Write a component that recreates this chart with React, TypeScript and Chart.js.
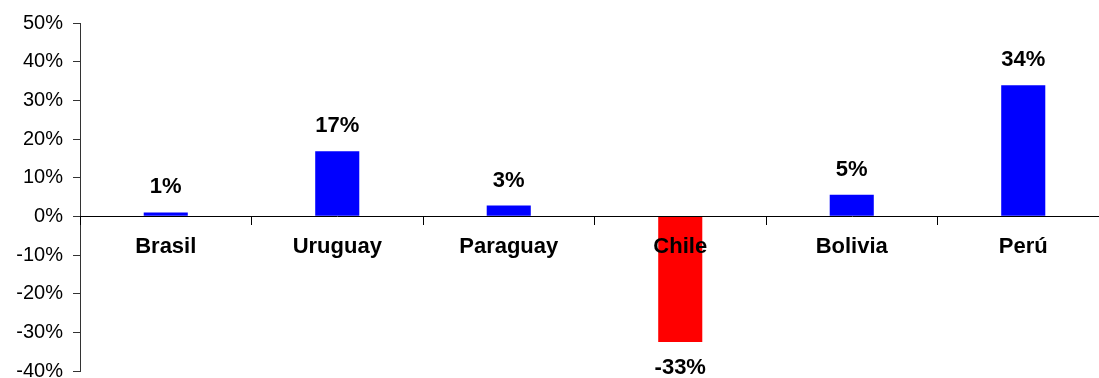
import React, { useEffect, useRef } from "react";
import { Chart, registerables } from "chart.js";

Chart.register(...registerables);

const categories = ["Brasil", "Uruguay", "Paraguay", "Chile", "Bolivia", "Perú"];
const values = [1.0, 16.8, 2.8, -32.5, 5.6, 33.9];
const valueLabels = ["1%", "17%", "3%", "-33%", "5%", "34%"];
const yTicks = { min: -40, max: 50, step: 10 };

const FONT = '"Liberation Sans", Arial, Helvetica, sans-serif';

const dataLabelPlugin = {
  id: "dataLabels",
  afterDatasetsDraw(chart: any) {
    const ctx = chart.ctx;
    const meta = chart.getDatasetMeta(0);
    ctx.save();
    ctx.font = `bold 22px ${FONT}`;
    ctx.fillStyle = "#000";
    ctx.textAlign = "center";
    ctx.textBaseline = "alphabetic";
    meta.data.forEach((el: any, i: number) => {
      const v = values[i];
      const y = v >= 0 ? el.y - 19 : el.y + 32;
      ctx.fillText(valueLabels[i], el.x, y);
    });
    ctx.restore();
  },
};

export default function App() {
  const ref = useRef<HTMLCanvasElement | null>(null);
  useEffect(() => {
    if (!ref.current) return;
    const chart = new Chart(ref.current, {
      type: "bar",
      data: {
        labels: categories,
        datasets: [
          {
            data: values,
            backgroundColor: values.map((v) => (v < 0 ? "#FF0000" : "#0000FF")),
            borderWidth: 0,
            categoryPercentage: 1,
            barPercentage: 0.257,
          },
        ],
      },
      options: {
        animation: false,
        responsive: false,
        layout: { padding: { top: 23, bottom: 0, left: 0, right: 0 } },
        plugins: { legend: { display: false }, tooltip: { enabled: false } },
        scales: {
          x: {
            position: { y: 0 } as any,
            offset: true,
            grid: {
              offset: true,
              drawOnChartArea: false,
              drawTicks: true,
              tickLength: 8,
              color: "#000",
              z: 1,
            },
            border: { display: true, color: "#000", width: 1, z: 1 },
            ticks: {
              color: "#000",
              font: { family: FONT, size: 22, weight: "bold" },
              padding: 9,
              maxRotation: 0,
              autoSkip: false,
              z: 1,
            },
            afterFit(scale: any) {
              scale.height = 0;
            },
          },
          y: {
            min: yTicks.min,
            max: yTicks.max,
            grid: {
              drawOnChartArea: false,
              drawTicks: true,
              tickLength: 7,
              color: "#333",
            },
            border: { display: true, color: "#333", width: 1 },
            ticks: {
              stepSize: yTicks.step,
              color: "#000",
              padding: 10,
              font: { family: FONT, size: 20 },
              callback: (v: any) => `${v}%`,
            },
            afterFit(scale: any) {
              scale.width = 80;
            },
          },
        },
      },
      plugins: [dataLabelPlugin],
    });
    return () => chart.destroy();
  }, []);
  return (
    <div
      style={{
        position: "absolute",
        left: 0,
        top: 0,
        width: 1099,
        height: 378,
        overflow: "hidden",
        background: "#fff",
      }}
    >
      <canvas ref={ref} width={1109} height={393} style={{ width: 1109, height: 393, display: "block" }} />
    </div>
  );
}
